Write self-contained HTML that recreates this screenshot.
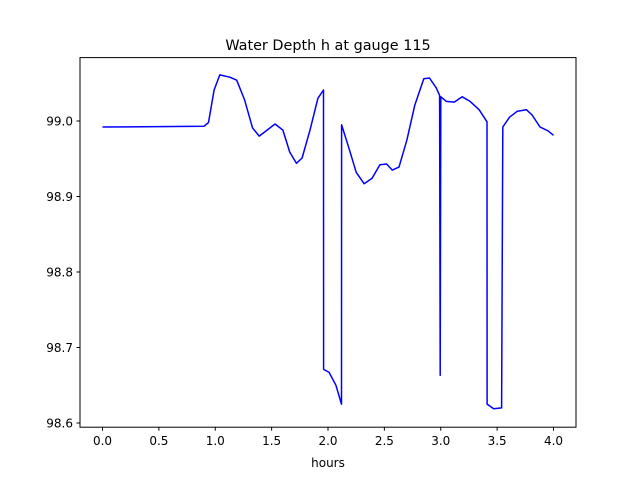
<!DOCTYPE html>
<html><head><meta charset="utf-8"><style>
html,body{margin:0;padding:0;background:#fff;}
svg text{font-family:"DejaVu Sans","Liberation Sans",sans-serif;}
</style></head><body>
<svg id="chart" width="640" height="480" xmlns="http://www.w3.org/2000/svg">
<rect width="640" height="480" fill="#fff"/>
<text x="328" y="50" font-size="14.4" text-anchor="middle">Water Depth h at gauge 115</text>
<g id="plot"></g>
<rect x="80" y="57.6" width="496" height="369.6" fill="none" stroke="#000" stroke-width="1"/>
<text x="328" y="467" font-size="12" text-anchor="middle">hours</text>
</svg>
<script>
const hours=[0,0.9,0.94,0.99,1.04,1.13,1.19,1.26,1.33,1.39,1.46,1.53,1.60,1.66,1.72,1.77,1.84,1.91,1.96,1.961,2.01,2.07,2.12,2.121,2.19,2.25,2.32,2.39,2.46,2.52,2.57,2.63,2.70,2.77,2.85,2.90,2.96,2.99,2.995,3.0,3.05,3.12,3.19,3.26,3.34,3.41,3.411,3.47,3.54,3.55,3.61,3.68,3.76,3.81,3.88,3.95,4.0];
const depth=[98.992,98.993,98.998,99.041,99.061,99.058,99.054,99.028,98.991,98.98,98.988,98.996,98.988,98.959,98.944,98.951,98.988,99.03,99.041,98.671,98.667,98.650,98.625,98.995,98.962,98.932,98.917,98.924,98.942,98.943,98.935,98.939,98.975,99.021,99.056,99.057,99.044,99.034,98.663,99.032,99.026,99.025,99.032,99.026,99.015,98.999,98.625,98.619,98.620,98.992,99.005,99.013,99.015,99.008,98.992,98.987,98.981];
const xTicks=[0,0.5,1,1.5,2,2.5,3,3.5,4];
const xTickLabels=["0.0","0.5","1.0","1.5","2.0","2.5","3.0","3.5","4.0"];
const yTicks=[98.6,98.7,98.8,98.9,99.0];
const yTickLabels=["98.6","98.7","98.8","98.9","99.0"];
const NS="http://www.w3.org/2000/svg";
const X=v=>102.5+v*112.75;
const Y=v=>121-(v-99.0)*755;
const g=document.getElementById('plot');
function mk(t,a){const e=document.createElementNS(NS,t);for(const k in a)e.setAttribute(k,a[k]);return e;}
xTicks.forEach((t,i)=>{
  const l=mk('line',{x1:X(t),x2:X(t),y1:427.2,y2:430.7,stroke:'#000'});
  
  
  g.appendChild(l);
  const tx=mk('text',{x:X(t),y:445,'font-size':12,'text-anchor':'middle'});
  tx.textContent=xTickLabels[i];
  
  
  g.appendChild(tx);
});
yTicks.forEach((t,i)=>{
  const l=mk('line',{x1:76.5,x2:80,y1:Y(t),y2:Y(t),stroke:'#000'});
  
  
  g.appendChild(l);
  const tx=mk('text',{x:73,y:Y(t)+4.5,'font-size':12,'text-anchor':'end'});
  tx.textContent=yTickLabels[i];
  
  
  g.appendChild(tx);
});
const pts=hours.map((h,i)=>X(h).toFixed(1)+','+Y(depth[i]).toFixed(1)).join(' ');
const pl=mk('polyline',{points:pts,fill:'none',stroke:'#0000ff','stroke-width':1.5,'stroke-linejoin':'round'});


g.appendChild(pl);
</script>
</body></html>
